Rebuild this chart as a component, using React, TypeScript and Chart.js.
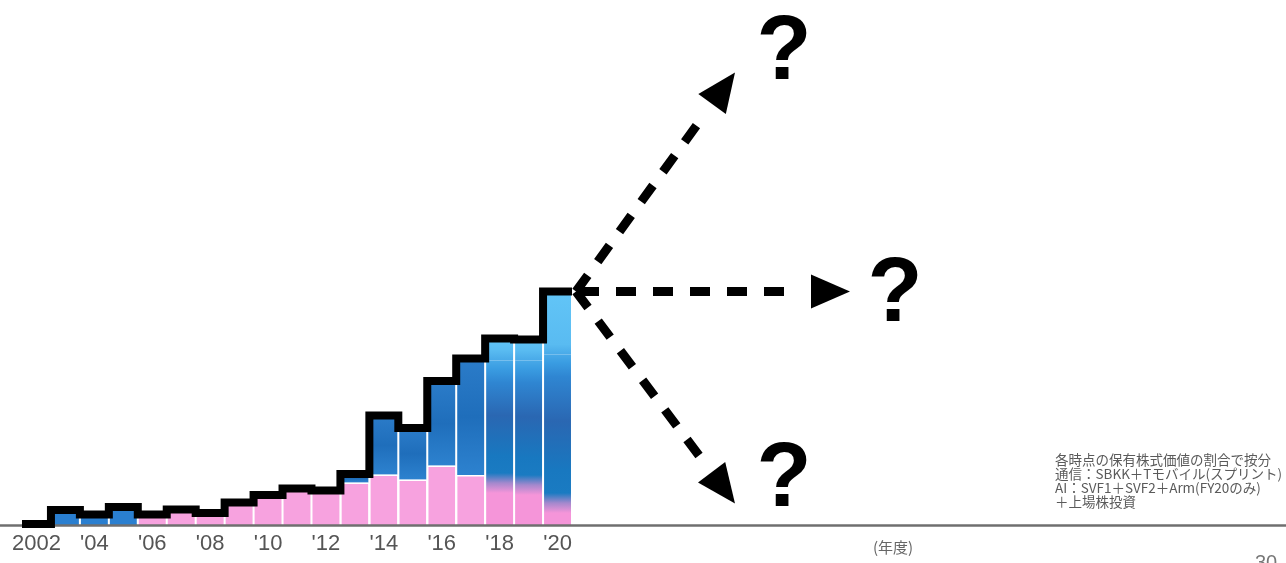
import React, { useEffect, useRef } from 'react';
import { Chart, registerables } from 'chart.js';

Chart.register(...registerables);

// Fiscal years on the horizontal axis
const years = [
  '2002', '2003', '2004', '2005', '2006', '2007', '2008', '2009', '2010', '2011',
  '2012', '2013', '2014', '2015', '2016', '2017', '2018', '2019', '2020',
];
// Axis labels, every other fiscal year
const yearTicks = [
  '2002', '', "'04", '', "'06", '', "'08", '', "'10", '', "'12", '', "'14", '', "'16", '', "'18", '', "'20",
];

// Holding value split by segment (relative units)
const telecom = [0, 0, 0, 0, 2.1, 3.1, 2.4, 4.5, 6.0, 7.3, 6.9, 8.5, 10.1, 9.1, 11.9, 10.0, 8.4, 8.0, 4.4];
const internet = [0.2, 3.0, 2.1, 3.6, 0, 0, 0, 0, 0, 0, 0, 1.7, 11.8, 10.3, 16.9, 23.3, 24.5, 24.9, 29.7];
const ai = [0, 0, 0, 0, 0, 0, 0, 0, 0, 0, 0, 0, 0, 0, 0, 0, 4.4, 4.2, 12.6];

const noteLines = [
  '各時点の保有株式価値の割合で按分',
  '通信：SBKK＋Tモバイル(スプリント)',
  'AI：SVF1＋SVF2＋Arm(FY20のみ)',
  '＋上場株投資',
];
const axisUnit = '(年度)';
const pageNumber = '30';
const scenarioMark = '?';

const totals = years.map((_, i) => telecom[i] + internet[i] + ai[i]);
// outline of the totals: one horizontal run per fiscal year
const stepPoints = [
  ...totals.map((v, i) => ({ x: i - 0.5, y: v })),
  { x: years.length - 0.5, y: totals[totals.length - 1] },
];
const asPoints = (arr: number[]) => arr.map((v, i) => ({ x: i, y: v }));

const PINK = '#f7a2df';
const PINK_DEEP = '#f595d9';
const MIX = '#a488cd';
const BLUE = '#2a7fd0';
const SKY_MIX = '#48a9e8';
const SKY = '#62c5f7';
const BLENDED_FROM = 16; // bars whose segments fade into each other

type Stop = [number, string];

function vGradient(chart: any, from: number, to: number, stops: (h: number) => Stop[], fallback: string) {
  const y = chart.scales && chart.scales.y;
  if (!y || !chart.chartArea) return fallback;
  const yb = y.getPixelForValue(from);
  const yt = y.getPixelForValue(to);
  if (!Number.isFinite(yb) || !Number.isFinite(yt) || yb - yt < 1) return fallback;
  const h = yb - yt;
  const g = chart.ctx.createLinearGradient(0, yb, 0, yt);
  stops(h).forEach(([f, c]) => g.addColorStop(Math.min(1, Math.max(0, f)), c));
  return g;
}

const telecomColor = (c: any) => {
  const i = c.dataIndex;
  if (i < BLENDED_FROM) return PINK;
  return vGradient(c.chart, 0, telecom[i], (h) => [
    [0, PINK_DEEP],
    [1 - 10 / h, PINK_DEEP],
    [1, MIX],
  ], PINK);
};

const internetColor = (c: any) => {
  const i = c.dataIndex;
  const base = telecom[i];
  const top = base + internet[i];
  if (i < 10) return BLUE;
  if (i < BLENDED_FROM) {
    return vGradient(c.chart, base, top, () => [
      [0, '#2d82cf'],
      [0.5, '#1f6ebb'],
      [1, '#2b7cc9'],
    ], BLUE);
  }
  return vGradient(c.chart, base, top, (h) => [
    [0, MIX],
    [10 / h, '#1a7bc2'],
    [0.22, '#1878c0'],
    [0.55, '#2a67b2'],
    [1 - 22 / h, '#2f86d2'],
    [1 - 8 / h, '#3a9de2'],
    [1, SKY_MIX],
  ], BLUE);
};

const aiColor = (c: any) => {
  const i = c.dataIndex;
  const base = telecom[i] + internet[i];
  return vGradient(c.chart, base, base + ai[i], (h) => [
    [0, SKY_MIX],
    [10 / h, '#59bbf1'],
    [1, SKY],
  ], SKY);
};

function drawArrow(ctx: CanvasRenderingContext2D, x0: number, y0: number, x1: number, y1: number, dashOffset: number) {
  const ang = Math.atan2(y1 - y0, x1 - x0);
  const cos = Math.cos(ang);
  const sin = Math.sin(ang);
  const headLen = 39;
  const headHalf = 17;
  const bx = x1 - headLen * cos;
  const by = y1 - headLen * sin;
  ctx.save();
  ctx.strokeStyle = '#000';
  ctx.fillStyle = '#000';
  ctx.lineWidth = 9;
  ctx.lineCap = 'butt';
  ctx.setLineDash([20, 17]);
  ctx.lineDashOffset = dashOffset;
  ctx.beginPath();
  ctx.moveTo(x0, y0);
  ctx.lineTo(bx - 10 * cos, by - 10 * sin);
  ctx.stroke();
  ctx.setLineDash([]);
  ctx.beginPath();
  ctx.moveTo(x1, y1);
  ctx.lineTo(bx + headHalf * sin, by - headHalf * cos);
  ctx.lineTo(bx - headHalf * sin, by + headHalf * cos);
  ctx.closePath();
  ctx.fill();
  ctx.restore();
}

const overlayPlugin = {
  id: 'overlay',
  beforeDatasetDraw(chart: any, args: any) {
    if (args.index !== 3) return;
    const ctx = chart.ctx as CanvasRenderingContext2D;
    const y = chart.scales.y.getPixelForValue(0);
    ctx.save();
    ctx.strokeStyle = '#6f6f6f';
    ctx.lineWidth = 2.5;
    ctx.beginPath();
    ctx.moveTo(0, y + 0.5);
    ctx.lineTo(chart.width, y + 0.5);
    ctx.stroke();
    ctx.restore();
  },
  afterDraw(chart: any) {
    const ctx = chart.ctx as CanvasRenderingContext2D;
    const x0 = chart.scales.x.getPixelForValue(years.length - 0.5) + 4;
    const y0 = chart.scales.y.getPixelForValue(totals[totals.length - 1]);

    // three possible futures
    drawArrow(ctx, x0, y0, x0 + 159, y0 - 219, 0);
    drawArrow(ctx, x0, y0, x0 + 274, y0, -3);
    drawArrow(ctx, x0, y0, x0 + 159, y0 + 212, 0);

    ctx.save();
    ctx.fillStyle = '#000';
    ctx.font = 'bold 90px "Liberation Sans", Arial, sans-serif';
    ctx.textAlign = 'center';
    ctx.textBaseline = 'alphabetic';
    ctx.fillText(scenarioMark, x0 + 208, y0 - 213);
    ctx.fillText(scenarioMark, x0 + 319, y0 + 29);
    ctx.fillText(scenarioMark, x0 + 208, y0 + 214);

    // notes
    ctx.fillStyle = '#5a5a5a';
    ctx.textAlign = 'left';
    ctx.textBaseline = 'middle';
    ctx.font = '13.5px "Noto Sans CJK JP", sans-serif';
    noteLines.forEach((t, i) => ctx.fillText(t, 1055, 460 + i * 14));

    ctx.font = '15px "Noto Sans CJK JP", sans-serif';
    ctx.fillStyle = '#666';
    ctx.fillText(axisUnit, 873, 547);

    ctx.font = '20px "Liberation Sans", Arial, sans-serif';
    ctx.fillStyle = '#777';
    ctx.textBaseline = 'top';
    ctx.fillText(pageNumber, 1255, 553);
    ctx.restore();
  },
};

const barStyle = {
  barPercentage: 0.93,
  categoryPercentage: 1,
  grouped: false,
  order: 1,
};

export default function App() {
  const ref = useRef<HTMLCanvasElement>(null);

  useEffect(() => {
    const canvas = ref.current;
    if (!canvas) return;
    const chart = new Chart(canvas, {
      type: 'bar',
      data: {
        datasets: [
          {
            label: '通信',
            data: asPoints(telecom) as any,
            backgroundColor: telecomColor,
            borderColor: '#ffffff',
            borderWidth: (c: any) =>
              c.dataIndex < BLENDED_FROM && internet[c.dataIndex] > 0 && telecom[c.dataIndex] > 0
                ? { top: 1.5, right: 0, bottom: 0, left: 0 }
                : 0,
            ...barStyle,
          },
          {
            label: 'インターネット',
            data: asPoints(internet) as any,
            backgroundColor: internetColor,
            borderWidth: 0,
            ...barStyle,
          },
          {
            label: 'AI',
            data: asPoints(ai) as any,
            backgroundColor: aiColor,
            borderWidth: 0,
            ...barStyle,
          },
          {
            type: 'line',
            label: '保有株式価値',
            data: stepPoints as any,
            stepped: 'before',
            borderColor: '#000000',
            borderWidth: 8,
            borderJoinStyle: 'miter',
            borderCapStyle: 'butt',
            pointRadius: 0,
            fill: false,
            clip: false as any,
            order: 0,
          } as any,
        ],
      },
      options: {
        responsive: false,
        devicePixelRatio: 1,
        animation: false,
        events: [],
        layout: { padding: { left: 22, right: 714, top: 0, bottom: 0 } },
        plugins: {
          legend: { display: false },
          tooltip: { enabled: false },
          title: { display: false },
        },
        scales: {
          x: {
            type: 'linear',
            min: -0.5,
            max: years.length - 0.5,
            offset: false,
            stacked: true,
            grid: { display: false, drawTicks: false, offset: false },
            border: { display: false },
            afterBuildTicks: (s: any) => {
              s.ticks = years.map((_, i) => ({ value: i }));
            },
            ticks: {
              autoSkip: false,
              maxRotation: 0,
              minRotation: 0,
              padding: 6,
              color: '#555555',
              font: { family: '"Liberation Sans", Arial, sans-serif', size: 22 },
              callback: (v: any) => yearTicks[Math.round(Number(v))] ?? '',
            },
            afterFit: (s: any) => {
              s.height = 38;
            },
          },
          y: {
            stacked: true,
            display: false,
            min: 0,
            max: 105,
          },
        },
      },
      plugins: [overlayPlugin],
    });
    return () => chart.destroy();
  }, []);

  return (
    <canvas
      ref={ref}
      width={1286}
      height={563}
      style={{ position: 'fixed', left: 0, top: 0, display: 'block' }}
    />
  );
}
